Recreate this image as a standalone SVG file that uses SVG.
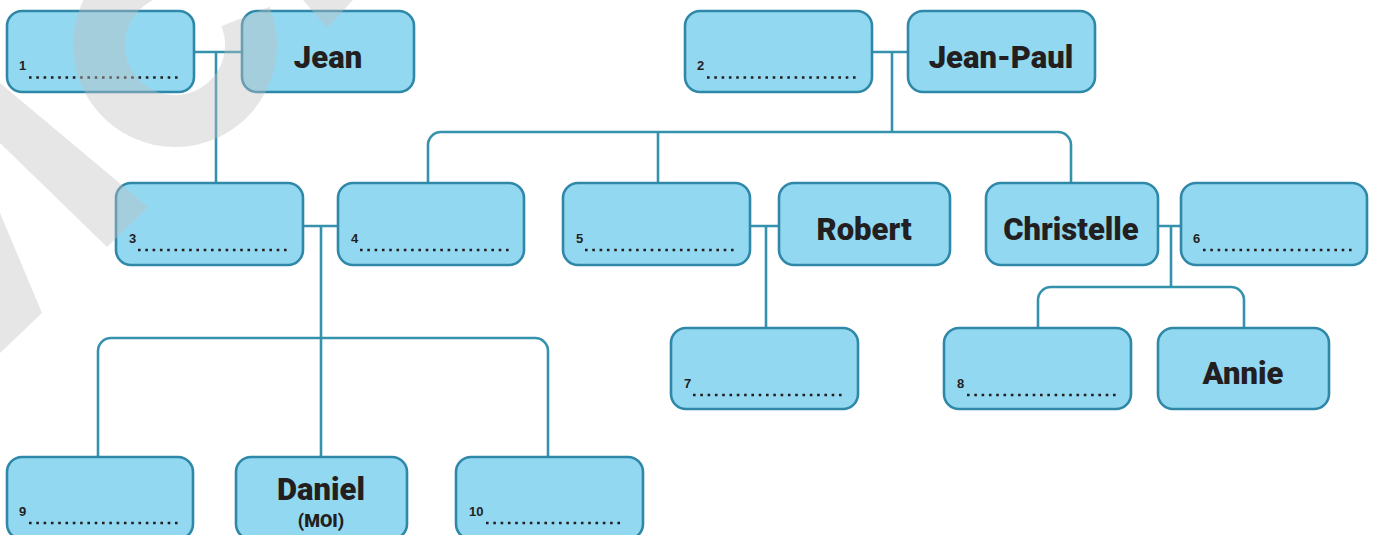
<svg xmlns="http://www.w3.org/2000/svg" width="1376" height="535" viewBox="0 0 1376 535">
<style>
.box{fill:#93d8f1;stroke:#2f88a8;stroke-width:2.6}
.con{fill:none;stroke:#3592ad;stroke-width:2.6}
.name{font-family:Roboto,"Liberation Sans",sans-serif;font-weight:900;font-size:31px;fill:#231f20;text-anchor:middle}
.moi{font-family:Roboto,"Liberation Sans",sans-serif;font-weight:900;font-size:18px;fill:#231f20;text-anchor:middle}
.num{font-family:"Liberation Sans",Arial,sans-serif;font-weight:bold;font-size:13px;fill:#231f20}
.dots{stroke:#231f20;stroke-width:2.6;stroke-dasharray:2.6 4.7;fill:none}
.wm{fill:#c0c0c0;opacity:0.4}
</style>
<rect width="1376" height="535" fill="#ffffff"/>
<g id="connectors">
<path class="con" d="M194 52H242M216 52V183"/>
<path class="con" d="M871 52H908M892 52V132"/>
<path class="con" d="M428 183V145A13 13 0 0 1 441 132H1058A13 13 0 0 1 1071 145V183M658 132V183"/>
<path class="con" d="M303 226H338M321 226V457"/>
<path class="con" d="M98 457V351A13 13 0 0 1 111 338H535A13 13 0 0 1 548 351V457"/>
<path class="con" d="M750 226H779M766 226V328"/>
<path class="con" d="M1158 226H1181M1171 226V287"/>
<path class="con" d="M1038 328V300A13 13 0 0 1 1051 287H1231A13 13 0 0 1 1244 300V328"/>
</g>
<g id="n1"><rect class="box" x="7" y="11" width="187" height="81" rx="15"/><text class="num" x="19" y="70">1</text><line class="dots" x1="29" y1="77.5" x2="178" y2="77.5"/></g>
<g id="jean"><rect class="box" x="242" y="11" width="172" height="81" rx="15"/><text class="name" x="328" y="68">Jean</text></g>
<g id="n2"><rect class="box" x="685" y="11" width="187" height="81" rx="15"/><text class="num" x="697" y="70">2</text><line class="dots" x1="707" y1="77.5" x2="856" y2="77.5"/></g>
<g id="jeanpaul"><rect class="box" x="908" y="11" width="187" height="81" rx="15"/><text class="name" x="1001" y="68">Jean-Paul</text></g>
<g id="n3"><rect class="box" x="116" y="183" width="187" height="82" rx="15"/><text class="num" x="129" y="243">3</text><line class="dots" x1="138" y1="250" x2="287" y2="250"/></g>
<g id="n4"><rect class="box" x="338" y="183" width="186" height="82" rx="15"/><text class="num" x="351" y="243">4</text><line class="dots" x1="360" y1="250" x2="509" y2="250"/></g>
<g id="n5"><rect class="box" x="563" y="183" width="187" height="82" rx="15"/><text class="num" x="576" y="243">5</text><line class="dots" x1="585" y1="250" x2="734" y2="250"/></g>
<g id="robert"><rect class="box" x="779" y="183" width="171" height="82" rx="15"/><text class="name" x="864" y="240">Robert</text></g>
<g id="christelle"><rect class="box" x="986" y="183" width="172" height="82" rx="15"/><text class="name" x="1071" y="240">Christelle</text></g>
<g id="n6"><rect class="box" x="1181" y="183" width="186" height="82" rx="15"/><text class="num" x="1193" y="243">6</text><line class="dots" x1="1203" y1="250" x2="1352" y2="250"/></g>
<g id="n7"><rect class="box" x="671" y="328" width="187" height="81" rx="15"/><text class="num" x="684" y="388">7</text><line class="dots" x1="693" y1="395" x2="842" y2="395"/></g>
<g id="n8"><rect class="box" x="944" y="328" width="187" height="81" rx="15"/><text class="num" x="957" y="388">8</text><line class="dots" x1="967" y1="395" x2="1116" y2="395"/></g>
<g id="annie"><rect class="box" x="1158" y="328" width="171" height="81" rx="15"/><text class="name" x="1243" y="384">Annie</text></g>
<g id="n9"><rect class="box" x="7" y="457" width="186" height="82" rx="15"/><text class="num" x="19" y="516">9</text><line class="dots" x1="29" y1="523" x2="178" y2="523"/></g>
<g id="daniel"><rect class="box" x="236" y="457" width="171" height="82" rx="15"/><text class="name" x="321" y="500">Daniel</text><text class="moi" x="321" y="527">(MOI)</text></g>
<g id="n10"><rect class="box" x="456" y="457" width="187" height="82" rx="15"/><text class="num" x="469" y="516">10</text><line class="dots" x1="486" y1="523" x2="623" y2="523"/></g>
<g id="watermark">
<path class="wm" d="M0 83L148 207L107 247L0 143Z"/>
<path class="wm" d="M0 213L42 313L0 353Z"/>
<path class="wm" d="M303 0L353 0L327 28Z"/>
<path class="wm" d="M269.6 6.8A102 102 0 1 1 183.9 -56.6L179.4 -4.8A50 50 0 1 0 221.4 26.3Z"/>
</g>
</svg>
